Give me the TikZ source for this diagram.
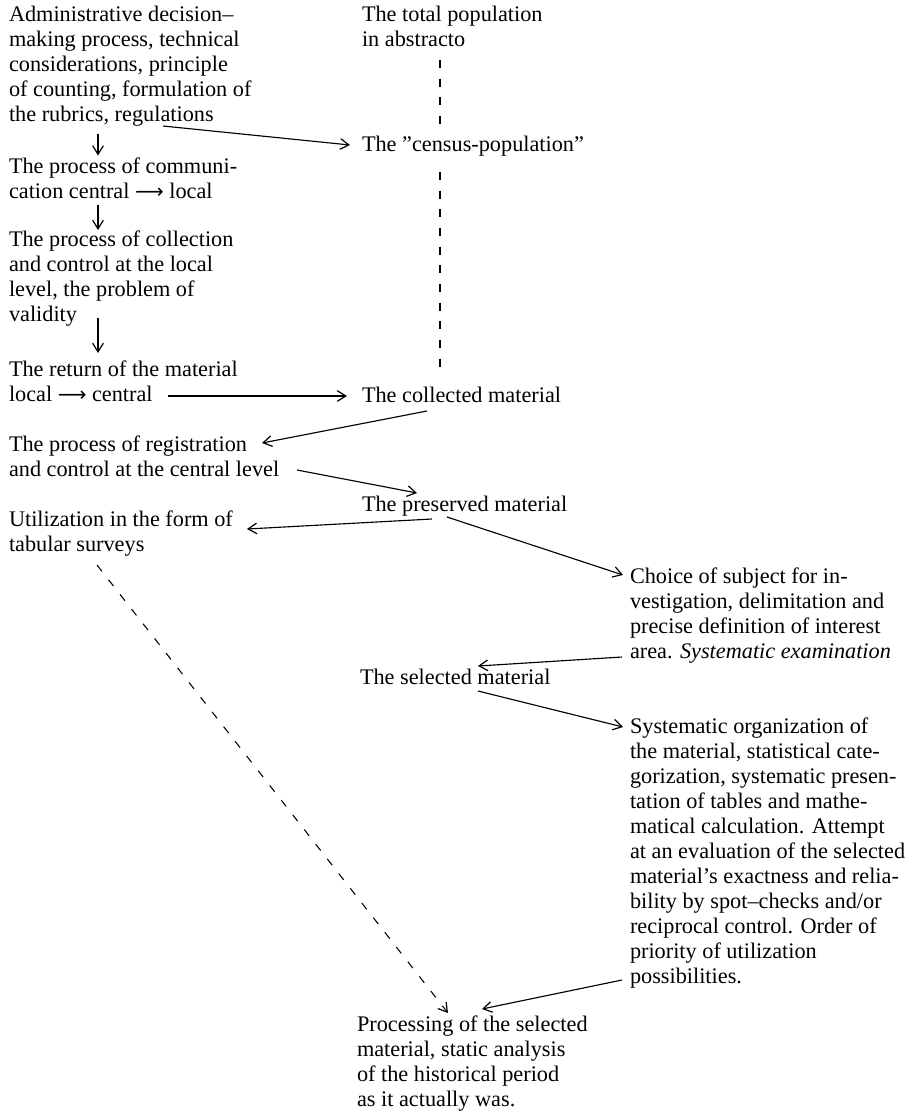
\documentclass[tikz,border=0pt]{standalone}
\usepackage{fontspec}
\setmainfont{Liberation Serif}
\newfontfamily\arrowfont{DejaVu Sans}
\newcommand\longarr{{\arrowfont\fontsize{15pt}{18.75pt}\selectfont ⟶}}
\usetikzlibrary{arrows.meta,calc}
\begin{document}
\begin{tikzpicture}[x=0.75pt,y=-0.75pt,
  txt/.style={anchor=north west,inner sep=0pt,outer sep=0pt,align=left,
    font=\fontsize{16.7pt}{18.75pt}\selectfont},
  tip/.style={-{Straight Barb[length=6.5pt,width=8pt,line width=0.9pt]}},
  conn/.style={line width=0.85pt,tip},
  dconn/.style={line width=0.8pt,dash pattern=on 6pt off 8pt},
]
\useasboundingbox (0,0) rectangle (920,1111);

\node[txt] (admin) at (9,3.5) {\strut Administrative decision--\\\strut making process, technical\\\strut considerations, principle\\\strut of counting, formulation of\\\strut the rubrics, regulations};
\node[txt] (total) at (362,3.5) {\strut The total population\\\strut in abstracto};
\node[txt] (census) at (362,133.5) {\strut The ''census-population''};
\node[txt] (comm) at (9,155.5) {\strut The process of communi-\\\strut cation central \longarr{} local};
\node[txt] (collection) at (9,228.5) {\strut The process of collection\\\strut and control at the local\\\strut level, the problem of\\\strut validity};
\node[txt] (return) at (9,358.5) {\strut The return of the material\\\strut local \longarr{} central};
\node[txt] (collected) at (362,384.5) {\strut The collected material};
\node[txt] (registration) at (9,433.5) {\strut The process of registration\\\strut and control at the central level};
\node[txt] (preserved) at (362,493.5) {\strut The preserved material};
\node[txt] (utilization) at (9,508.5) {\strut Utilization in the form of\\\strut tabular surveys};
\node[txt] (choice) at (630,565.5) {\strut Choice of subject for in-\\\strut vestigation, delimitation and\\\strut precise definition of interest\\\strut area. \textit{Systematic examination}};
\node[txt] (selected) at (360,666.5) {\strut The selected material};
\node[txt] (systematic) at (630,715.5) {\strut Systematic organization of\\\strut the material, statistical cate-\\\strut gorization, systematic presen-\\\strut tation of tables and mathe-\\\strut matical calculation. Attempt\\\strut at an evaluation of the selected\\\strut material’s exactness and relia-\\\strut bility by spot--checks and/or\\\strut reciprocal control. Order of\\\strut priority of utilization\\\strut possibilities.};
\node[txt] (processing) at (357,1013.5) {\strut Processing of the selected\\\strut material, static analysis\\\strut of the historical period\\\strut as it actually was.};

% solid connectors
\draw[conn] ($(admin.north west)+(154,122.5)$) -- ($(census.north west)+(-12,11.5)$);
\draw[conn] ($(admin.north west)+(89,130)$) -- ($(comm.north west)+(89,0)$);
\draw[conn] ($(comm.north west)+(89,49.5)$) -- ($(collection.north west)+(89,1.5)$);
\draw[conn] ($(collection.north west)+(89,89.5)$) -- ($(return.north west)+(89,-5.5)$);
\draw[conn] ($(return.north west)+(159,37.5)$) -- ($(collected.north west)+(-15,11.5)$);
\draw[conn] ($(collected.north west)+(65,26.5)$) -- ($(registration.north west)+(253,9.5)$);
\draw[conn] ($(registration.north west)+(288,36.5)$) -- ($(preserved.north west)+(55,-0.5)$);
\draw[conn] ($(preserved.north west)+(70,25.5)$) -- ($(utilization.north west)+(238,20.5)$);
\draw[conn] ($(preserved.north west)+(85,23.5)$) -- ($(choice.north west)+(-7,9.5)$);
\draw[conn] ($(choice.north west)+(-8,91.5)$) -- ($(selected.north west)+(118,-0.5)$);
\draw[conn] ($(selected.north west)+(118,24.5)$) -- ($(systematic.north west)+(-7,11.5)$);
\draw[conn] ($(systematic.north west)+(-8,264.5)$) -- ($(processing.north west)+(125,-4.5)$);

% dashed connectors
\draw[dconn] ($(total.north west)+(78,56.5)$) -- ($(census.north west)+(78,-5.5)$);
\draw[dconn] ($(census.north west)+(78,38.5)$) -- ($(collected.north west)+(78,-7.5)$);
\draw[dconn,tip] ($(utilization.north west)+(88,56.5)$) -- ($(processing.north west)+(91,-0.5)$);
\end{tikzpicture}
\end{document}
